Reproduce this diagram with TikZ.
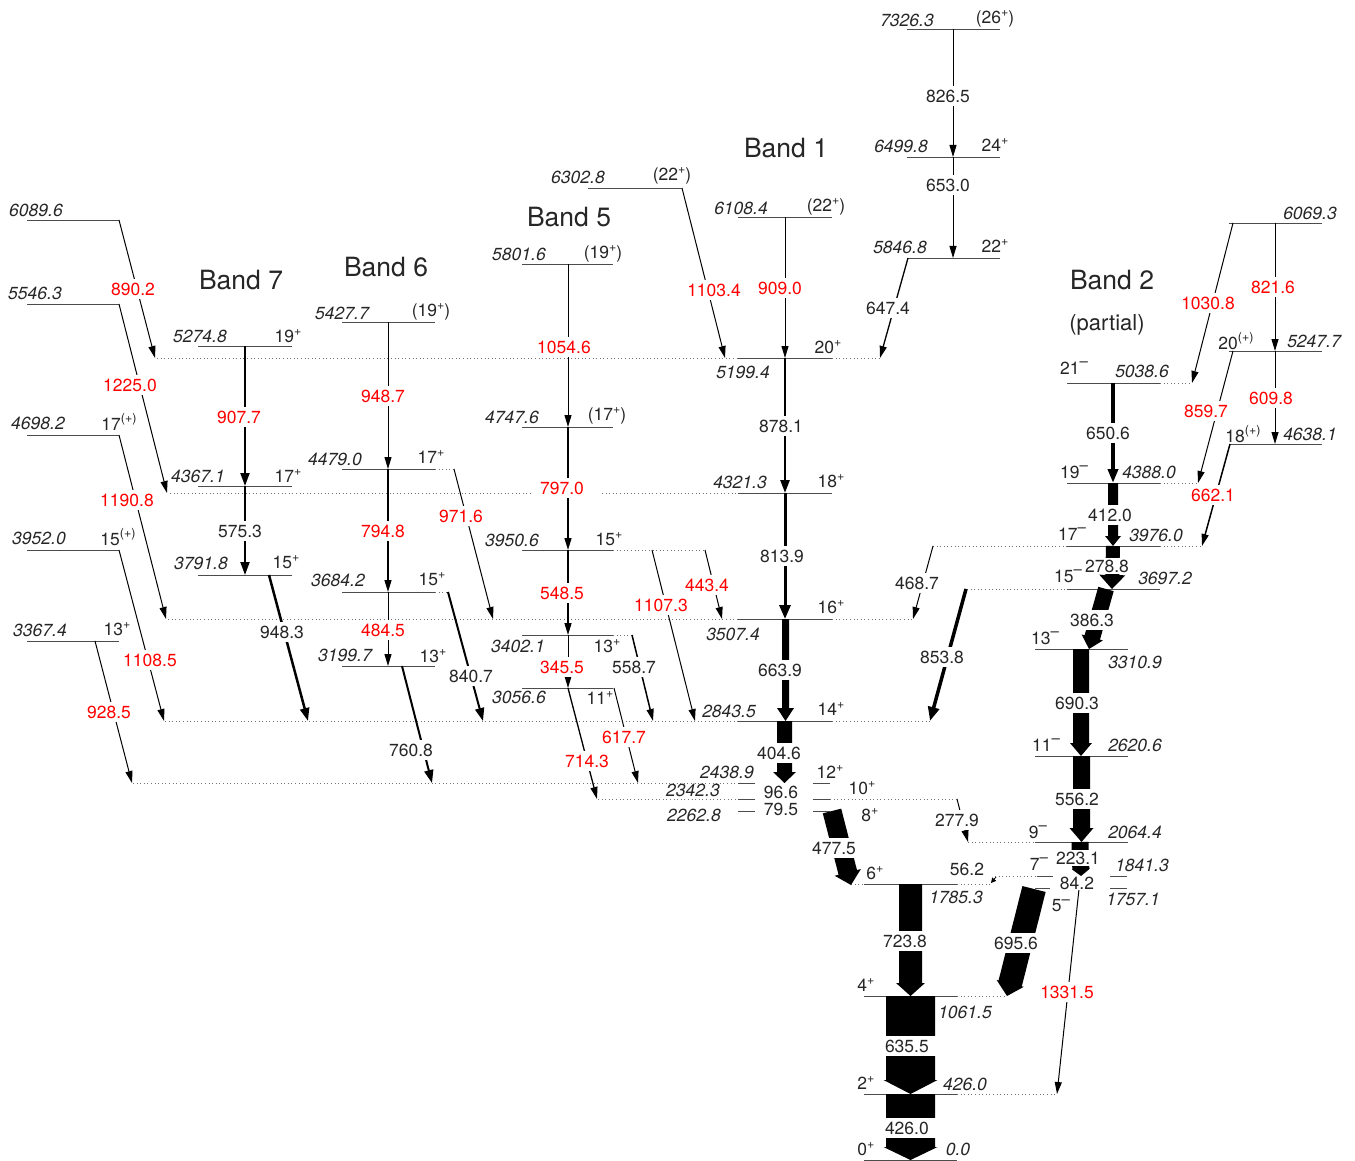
\documentclass[tikz,border=0pt]{standalone}
\usepackage{fontspec}
\setmainfont{TeX Gyre Heros}
\usetikzlibrary{arrows.meta,calc}

% spin-parity superscripts
\newcommand\jsup[1]{\raisebox{0.42em}{\fontsize{12.5}{14}\selectfont #1}}
\newcommand\jpl{\jsup{+}}
\newcommand\jmi{\jsup{\fontsize{15}{16}\selectfont --}}
\newcommand\jpp{\jsup{(+)}}

% level: solid part and dotted extension
\newcommand\lev[3]{\draw[lvl] (#1,#3) -- (#2,#3);}
\newcommand\dext[3]{\draw[ext] (#1,#3) -- (#2,#3);}

% gamma ray drawn as a line between two named end points
\newcommand\gam[4][gthin]{%
  \coordinate (#2a) at (#3); \coordinate (#2b) at (#4);
  \draw[#1] (#2a) -- (#2b);}

% intense gamma ray: filled arrow whose width shows the intensity
% #1 name, #2 from, #3 to, #4 half shaft width, #5 half head width, #6 head length
\newcommand\fatgam[6]{%
  \coordinate (#1a) at (#2); \coordinate (#1b) at (#3);
  \fill[black] let \p1=($(#1b)-(#1a)$), \n1={atan2(\y1,\x1)} in
    ($(#1a)+({\n1+90}:#4pt)$) --
    ($(#1b)+({\n1+180}:#6pt)+({\n1+90}:#4pt)$) --
    ($(#1b)+({\n1+180}:#6pt)+({\n1+90}:#5pt)$) --
    (#1b) --
    ($(#1b)+({\n1+180}:#6pt)+({\n1-90}:#5pt)$) --
    ($(#1b)+({\n1+180}:#6pt)+({\n1-90}:#4pt)$) --
    ($(#1a)+({\n1-90}:#4pt)$) -- cycle;}

\tikzset{
  lvl/.style={line width=0.9pt, draw=black!70},
  ext/.style={line width=0.9pt, draw=black!55, dash pattern=on 1pt off 2.6pt},
  gthin/.style={line width=1pt, -{Triangle[width=7pt,length=12pt]}},
  gmid/.style={line width=2pt, -{Triangle[width=9pt,length=13pt]}},
  gthick/.style={line width=3pt, -{Triangle[width=11pt,length=14pt]}},
  txt/.style={font=\fontsize{17.5}{21}\selectfont, text=black!85, inner sep=1pt},
  glab/.style={txt, fill=white, inner xsep=2pt, inner ysep=3.5pt},
  rlab/.style={glab, text=red},
  widelab/.style={glab, text width=50pt, align=left, inner xsep=3pt},
  elab/.style={txt, font=\fontsize{17.5}{21}\selectfont\itshape},
  jlab/.style={txt},
  band/.style={txt, font=\fontsize{26.5}{30}\selectfont},
}

\begin{document}
\begin{tikzpicture}[x=1pt,y=-1pt]
\fill[white] (0,0) rectangle (1355,1161);
\useasboundingbox (0,0) rectangle (1355,1161);

% ---------- dotted level extensions ----------
\dext{157}{738}{358} \dext{832}{880}{358}
\dext{170}{533}{493} \dext{602}{738}{493}
\dext{168}{738}{619} \dext{832}{913}{619}
\dext{165}{738}{721} \dext{832}{930}{721}
\dext{133}{738}{783}
\dext{598}{738}{799} \dext{830}{957}{799}
\dext{435}{454}{469}
\dext{435}{448}{592}
\dext{613}{705}{550}
\dext{613}{632}{635}
\dext{851}{864}{884} \dext{957}{990}{884}
\dext{957}{1007}{996}
\dext{957}{1057}{1094}
\dext{1160}{1192}{383}
\dext{1160}{1198}{483}
\dext{933}{1067}{546} \dext{1160}{1202}{546}
\dext{967}{1067}{589}
\dext{968}{1035}{842}
\dext{995}{1037}{876}

% ---------- levels ----------
% band 1 and its continuation
\lev{907}{1000}{29} \lev{907}{1000}{157} \lev{907}{1000}{258}
\lev{738}{832}{217} \lev{588}{682}{188}
\lev{738}{832}{358} \lev{738}{832}{493} \lev{738}{832}{619} \lev{738}{832}{721}
\lev{738}{755}{783} \lev{813}{830}{783}
\lev{738}{755}{799} \lev{813}{830}{799}
\lev{738}{755}{811} \lev{813}{830}{811}
\lev{864}{957}{884} \lev{864}{957}{996} \lev{864}{957}{1094} \lev{864}{957}{1160}
% band 2
\lev{1229}{1322}{223} \lev{1229}{1322}{351} \lev{1229}{1322}{444}
\lev{1067}{1160}{383} \lev{1067}{1160}{483} \lev{1067}{1160}{546} \lev{1067}{1160}{589}
\lev{1035}{1128}{649} \lev{1035}{1128}{756} \lev{1035}{1128}{842}
\lev{1037}{1053}{876} \lev{1110}{1127}{876}
\lev{1035}{1050}{888} \lev{1110}{1127}{888}
% band 5
\lev{522}{613}{264} \lev{522}{613}{427} \lev{522}{613}{550} \lev{522}{613}{635} \lev{522}{613}{688}
% band 6
\lev{342}{435}{322} \lev{342}{435}{469} \lev{342}{435}{592} \lev{342}{435}{666}
% band 7
\lev{198}{292}{346} \lev{198}{292}{486} \lev{198}{292}{575}
% side levels
\lev{27}{119}{220} \lev{27}{119}{304} \lev{27}{119}{435} \lev{27}{119}{550} \lev{27}{119}{641}

% ---------- gamma rays ----------
\gam{g8265}{953,29}{953,157}
\gam{g6530}{953,157}{953,258}
\gam[gthin,line width=1.3pt]{g6474}{908,258}{880,358}
\gam{g9090}{785,217}{785,358}
\gam{g11034}{682,188}{725,358}
\gam[gmid,line width=2.5pt]{g8781}{785,358}{785,493}
\gam[gthick]{g8139}{785,493}{785,619}
\fatgam{g6639}{785.5,619}{785.5,721}{3.5}{8.5}{13}
\fatgam{g4046}{784.5,721}{784.5,783}{7.5}{11.5}{11}
\fatgam{g4775}{832,811}{851,885}{9.5}{13.5}{13}
\fatgam{g7238}{910.5,884}{910.5,996}{11.5}{14.5}{13}
\fatgam{g6355}{910.5,996}{910.5,1094}{24.5}{27}{14}
\fatgam{g4260}{910.5,1094}{910.5,1160}{24.5}{27}{13}
\fatgam{g6956}{1034,889}{1007,996}{12}{14}{13}
\gam[line width=0.8pt, -{Triangle[width=5pt,length=5pt]}]{g562}{996,877}{991,883}
\gam{g2779}{957,799}{968,842}
\gam{g13315}{1079,889}{1057,1094}
\gam[gthick,line width=3.5pt]{g8538}{966,589}{930,721}
\gam{g4687}{933,546}{913,619}

% band 2
\gam{g8216}{1275,223}{1275,351}
\gam{g10308}{1233,223}{1192,383}
\gam{g6098}{1275,351}{1275,444}
\gam{g8597}{1233,351}{1198,483}
\gam[gthin,line width=1.5pt]{g6621}{1230,444}{1202,546}
\gam[line width=4pt, -{Triangle[width=10pt,length=14pt]}]{g6506}{1113,383}{1113,483}
\fatgam{g4120}{1113,483}{1113,546}{5}{8}{10}
\fatgam{g2788}{1113,546}{1112,589}{7}{13}{14}
\fatgam{g3863}{1106,589}{1089,649}{8}{11}{12}
\fatgam{g6903}{1081,649}{1081,756}{8}{11}{13}
\fatgam{g5562}{1081.5,756}{1081.5,842}{8.5}{12}{14}
\fatgam{g2231}{1080,842}{1081,876}{8.5}{9}{7}

% band 5
\gam{g10546}{568,264}{568,427}
\gam[gthin,line width=1.4pt]{g7970}{568,427}{568,550}
\gam[gthin,line width=1.3pt]{g5485}{568,550}{568,635}
\gam{g3455}{568,635}{568,688}
\gam[gthin,line width=1.3pt]{g7143}{568,688}{597,799}
\gam{g6177}{614,688}{638,783}
\gam[gthin,line width=1.5pt]{g5587}{632,635}{653,721}
\gam{g11073}{652,550}{695,721}
\gam{g4434}{705,550}{722,619}

% band 6
\gam{g9487}{388,322}{388,469}
\gam{g9716}{454,469}{493,619}
\gam[gthin,line width=1.3pt]{g7948}{388,469}{388,592}
\gam{g4845}{388,592}{388,666}
\gam[gmid]{g8407}{448,592}{483,721}
\gam[gmid]{g7608}{402,666}{432,783}

% band 7
\gam[gmid]{g9077}{245,346}{245,486}
\gam[gmid]{g5753}{245,486}{245,575}
\gam[gmid,line width=2.5pt]{g9483}{269,575}{308,721}

% side levels
\gam{g8902}{119,220}{155,358}
\gam{g12250}{119,304}{167,493}
\gam{g11908}{119,435}{166,619}
\gam{g11085}{119,550}{164,721}
\gam{g9285}{95,641}{132,783}

% ---------- band titles ----------
\node[band] (b1) at (786,148) {Band 1};
\node[band] (b5) at (569,217) {Band 5};
\node[band] (b6) at (386,267) {Band 6};
\node[band] (b7) at (241,280) {Band 7};
\node[band] (b2) at (1112,280) {Band 2};
\node[txt, font=\fontsize{22}{26}\selectfont] (b2p) at (1107,325) {(partial)};

% ---------- level energies ----------
\node[elab] (e73263) at (907,20) {7326.3};
\node[elab] (e64998) at (901,146) {6499.8};
\node[elab] (e58468) at (900,247) {5846.8};
\node[elab] (e63028) at (578,177) {6302.8};
\node[elab] (e61084) at (741,208) {6108.4};
\node[elab] (e51994) at (743,372) {5199.4};
\node[elab] (e43213) at (740,482) {4321.3};
\node[elab] (e35074) at (733,634) {3507.4};
\node[elab] (e28435) at (729,711) {2843.5};
\node[elab] (e24389) at (727,772) {2438.9};
\node[elab] (e23423) at (693,790) {2342.3};
\node[elab] (e22628) at (694,815) {2262.8};
\node[elab] (e17853) at (956,897) {1785.3};
\node[elab] (e10615) at (965,1012) {1061.5};
\node[elab] (e4260) at (965,1084) {426.0};
\node[elab] (e00) at (958,1149) {0.0};
\node[elab] (e60693) at (1310,213) {6069.3};
\node[elab] (e52477) at (1314,341) {5247.7};
\node[elab] (e46381) at (1310,434) {4638.1};
\node[elab] (e50386) at (1142,371) {5038.6};
\node[elab] (e43880) at (1149,472) {4388.0};
\node[elab] (e39760) at (1156,535) {3976.0};
\node[elab] (e36972) at (1165,578) {3697.2};
\node[elab] (e33109) at (1135,662) {3310.9};
\node[elab] (e26206) at (1135,745) {2620.6};
\node[elab] (e20644) at (1135,832) {2064.4};
\node[elab] (e18413) at (1142,865) {1841.3};
\node[elab] (e17571) at (1133,899) {1757.1};
\node[elab] (e58016) at (519,254) {5801.6};
\node[elab] (e47476) at (512,417) {4747.6};
\node[elab] (e39506) at (512,540) {3950.6};
\node[elab] (e34021) at (518,646) {3402.1};
\node[elab] (e30566) at (519,697) {3056.6};
\node[elab] (e54277) at (342,313) {5427.7};
\node[elab] (e44790) at (335,459) {4479.0};
\node[elab] (e36842) at (338,580) {3684.2};
\node[elab] (e31997) at (345,655) {3199.7};
\node[elab] (e52748) at (200,336) {5274.8};
\node[elab] (e43671) at (198,476) {4367.1};
\node[elab] (e37918) at (201,563) {3791.8};
\node[elab] (e60896) at (36,210) {6089.6};
\node[elab] (e55463) at (35,293) {5546.3};
\node[elab] (e46982) at (38,423) {4698.2};
\node[elab] (e39520) at (39,538) {3952.0};
\node[elab] (e33674) at (40,630) {3367.4};

% ---------- spins and parities ----------
\node[jlab] (j26) at (995,19) {(26\jpl)};
\node[jlab] (j24) at (995,145) {24\jpl};
\node[jlab] (j22) at (995,246) {22\jpl};
\node[jlab] (j22a) at (672,176) {(22\jpl)};
\node[jlab] (j22b) at (826,207) {(22\jpl)};
\node[jlab] (j20) at (828,347) {20\jpl};
\node[jlab] (j18) at (831,481) {18\jpl};
\node[jlab] (j16) at (831,607) {16\jpl};
\node[jlab] (j14) at (831,709) {14\jpl};
\node[jlab] (j12) at (830,772) {12\jpl};
\node[jlab] (j10) at (862,788) {10\jpl};
\node[jlab] (j8) at (870,815) {8\jpl};
\node[jlab] (j6) at (875,873) {6\jpl};
\node[jlab] (j4) at (866,985) {4\jpl};
\node[jlab] (j2) at (866,1083) {2\jpl};
\node[jlab] (j0) at (866,1149) {0\jpl};
\node[jlab] (k20) at (1236,341) {20\jpp};
\node[jlab] (k18) at (1243,434) {18\jpp};
\node[jlab] (k21) at (1074,368) {21\jmi};
\node[jlab] (k19) at (1074,472) {19\jmi};
\node[jlab] (k17) at (1072,534) {17\jmi};
\node[jlab] (k15) at (1068,576) {15\jmi};
\node[jlab] (k13) at (1045,638) {13\jmi};
\node[jlab] (k11) at (1046,745) {11\jmi};
\node[jlab] (k9) at (1038,832) {9\jmi};
\node[jlab] (k7) at (1039,864) {7\jmi};
\node[jlab] (k5) at (1061,906) {5\jmi};
\node[jlab] (m19) at (603,254) {(19\jpl)};
\node[jlab] (m17) at (607,416) {(17\jpl)};
\node[jlab] (m15) at (609,539) {15\jpl};
\node[jlab] (m13) at (607,646) {13\jpl};
\node[jlab] (m11) at (600,698) {11\jpl};
\node[jlab] (n19) at (431,312) {(19\jpl)};
\node[jlab] (n17) at (431,457) {17\jpl};
\node[jlab] (n15) at (432,579) {15\jpl};
\node[jlab] (n13) at (433,656) {13\jpl};
\node[jlab] (p19) at (288,336) {19\jpl};
\node[jlab] (p17) at (288,476) {17\jpl};
\node[jlab] (p15) at (286,562) {15\jpl};
\node[jlab] (q17) at (119,422) {17\jpp};
\node[jlab] (q15) at (118,537) {15\jpp};
\node[jlab] (q13) at (117,629) {13\jpl};

% ---------- gamma-ray energies ----------
\node[glab] (t8265) at (948,96) {826.5};
\node[glab] (t6530) at (948,185) {653.0};
\node[glab] (t6474) at (888,308) {647.4};
\node[rlab] (t9090) at (780,288) {909.0};
\node[rlab] (t11034) at (714,290) {1103.4};
\node[glab] (t8781) at (781,426) {878.1};
\node[glab] (t8139) at (782,556) {813.9};
\node[glab] (t6639) at (780,670) {663.9};
\node[glab] (t4046) at (779,753) {404.6};
\node[glab, inner ysep=1pt] (t966) at (781,792) {96.6};
\node[glab, inner ysep=1pt] (t795) at (781,809) {79.5};
\node[glab] (t4775) at (834,848) {477.5};
\node[glab] (t7238) at (905,941) {723.8};
\node[widelab] (t6355) at (910,1046) {635.5};
\node[widelab] (t4260) at (910,1128) {426.0};
\node[glab] (t6956) at (1016,943) {695.6};
\node[rlab] (t13315) at (1067,992) {1331.5};
\node[glab] (t562) at (967,869) {56.2};
\node[glab] (t2779) at (957,820) {277.9};
\node[glab] (t8538) at (942,657) {853.8};
\node[glab] (t4687) at (917,583) {468.7};
\node[rlab] (t8216) at (1273,287) {821.6};
\node[rlab] (t10308) at (1208,303) {1030.8};
\node[rlab] (t6098) at (1271,398) {609.8};
\node[rlab] (t8597) at (1206,411) {859.7};
\node[rlab] (t6621) at (1213,495) {662.1};
\node[glab] (t6506) at (1108,433) {650.6};
\node[glab] (t4120) at (1110,515) {412.0};
\node[glab, inner ysep=1.5pt] (t2788) at (1107,566) {278.8};
\node[glab] (t3863) at (1092,620) {386.3};
\node[glab] (t6903) at (1077,703) {690.3};
\node[glab] (t5562) at (1077,799) {556.2};
\node[glab, inner ysep=2pt] (t2231) at (1078,858) {223.1};
\node[glab, inner ysep=0.5pt] (t842) at (1077,883) {84.2};
\node[rlab] (t10546) at (564,347) {1054.6};
\node[rlab] (t7970) at (562,488) {797.0};
\node[rlab] (t5485) at (562,593) {548.5};
\node[rlab] (t3455) at (562,667) {345.5};
\node[rlab] (t7143) at (587,761) {714.3};
\node[rlab] (t6177) at (624,737) {617.7};
\node[glab] (t5587) at (634,667) {558.7};
\node[rlab] (t11073) at (661,605) {1107.3};
\node[rlab] (t4434) at (707,585) {443.4};
\node[rlab] (t9487) at (383,396) {948.7};
\node[rlab] (t9716) at (461,516) {971.6};
\node[rlab] (t7948) at (383,531) {794.8};
\node[rlab] (t4845) at (383,630) {484.5};
\node[glab] (t8407) at (471,676) {840.7};
\node[glab] (t7608) at (411,750) {760.8};
\node[rlab] (t9077) at (239,417) {907.7};
\node[glab] (t5753) at (240,531) {575.3};
\node[glab] (t9483) at (282,632) {948.3};
\node[rlab] (t8902) at (133,289) {890.2};
\node[rlab] (t12250) at (130,385) {1225.0};
\node[rlab] (t11908) at (127,500) {1190.8};
\node[rlab] (t11085) at (150,660) {1108.5};
\node[rlab] (t9285) at (109,712) {928.5};
\end{tikzpicture}
\end{document}
